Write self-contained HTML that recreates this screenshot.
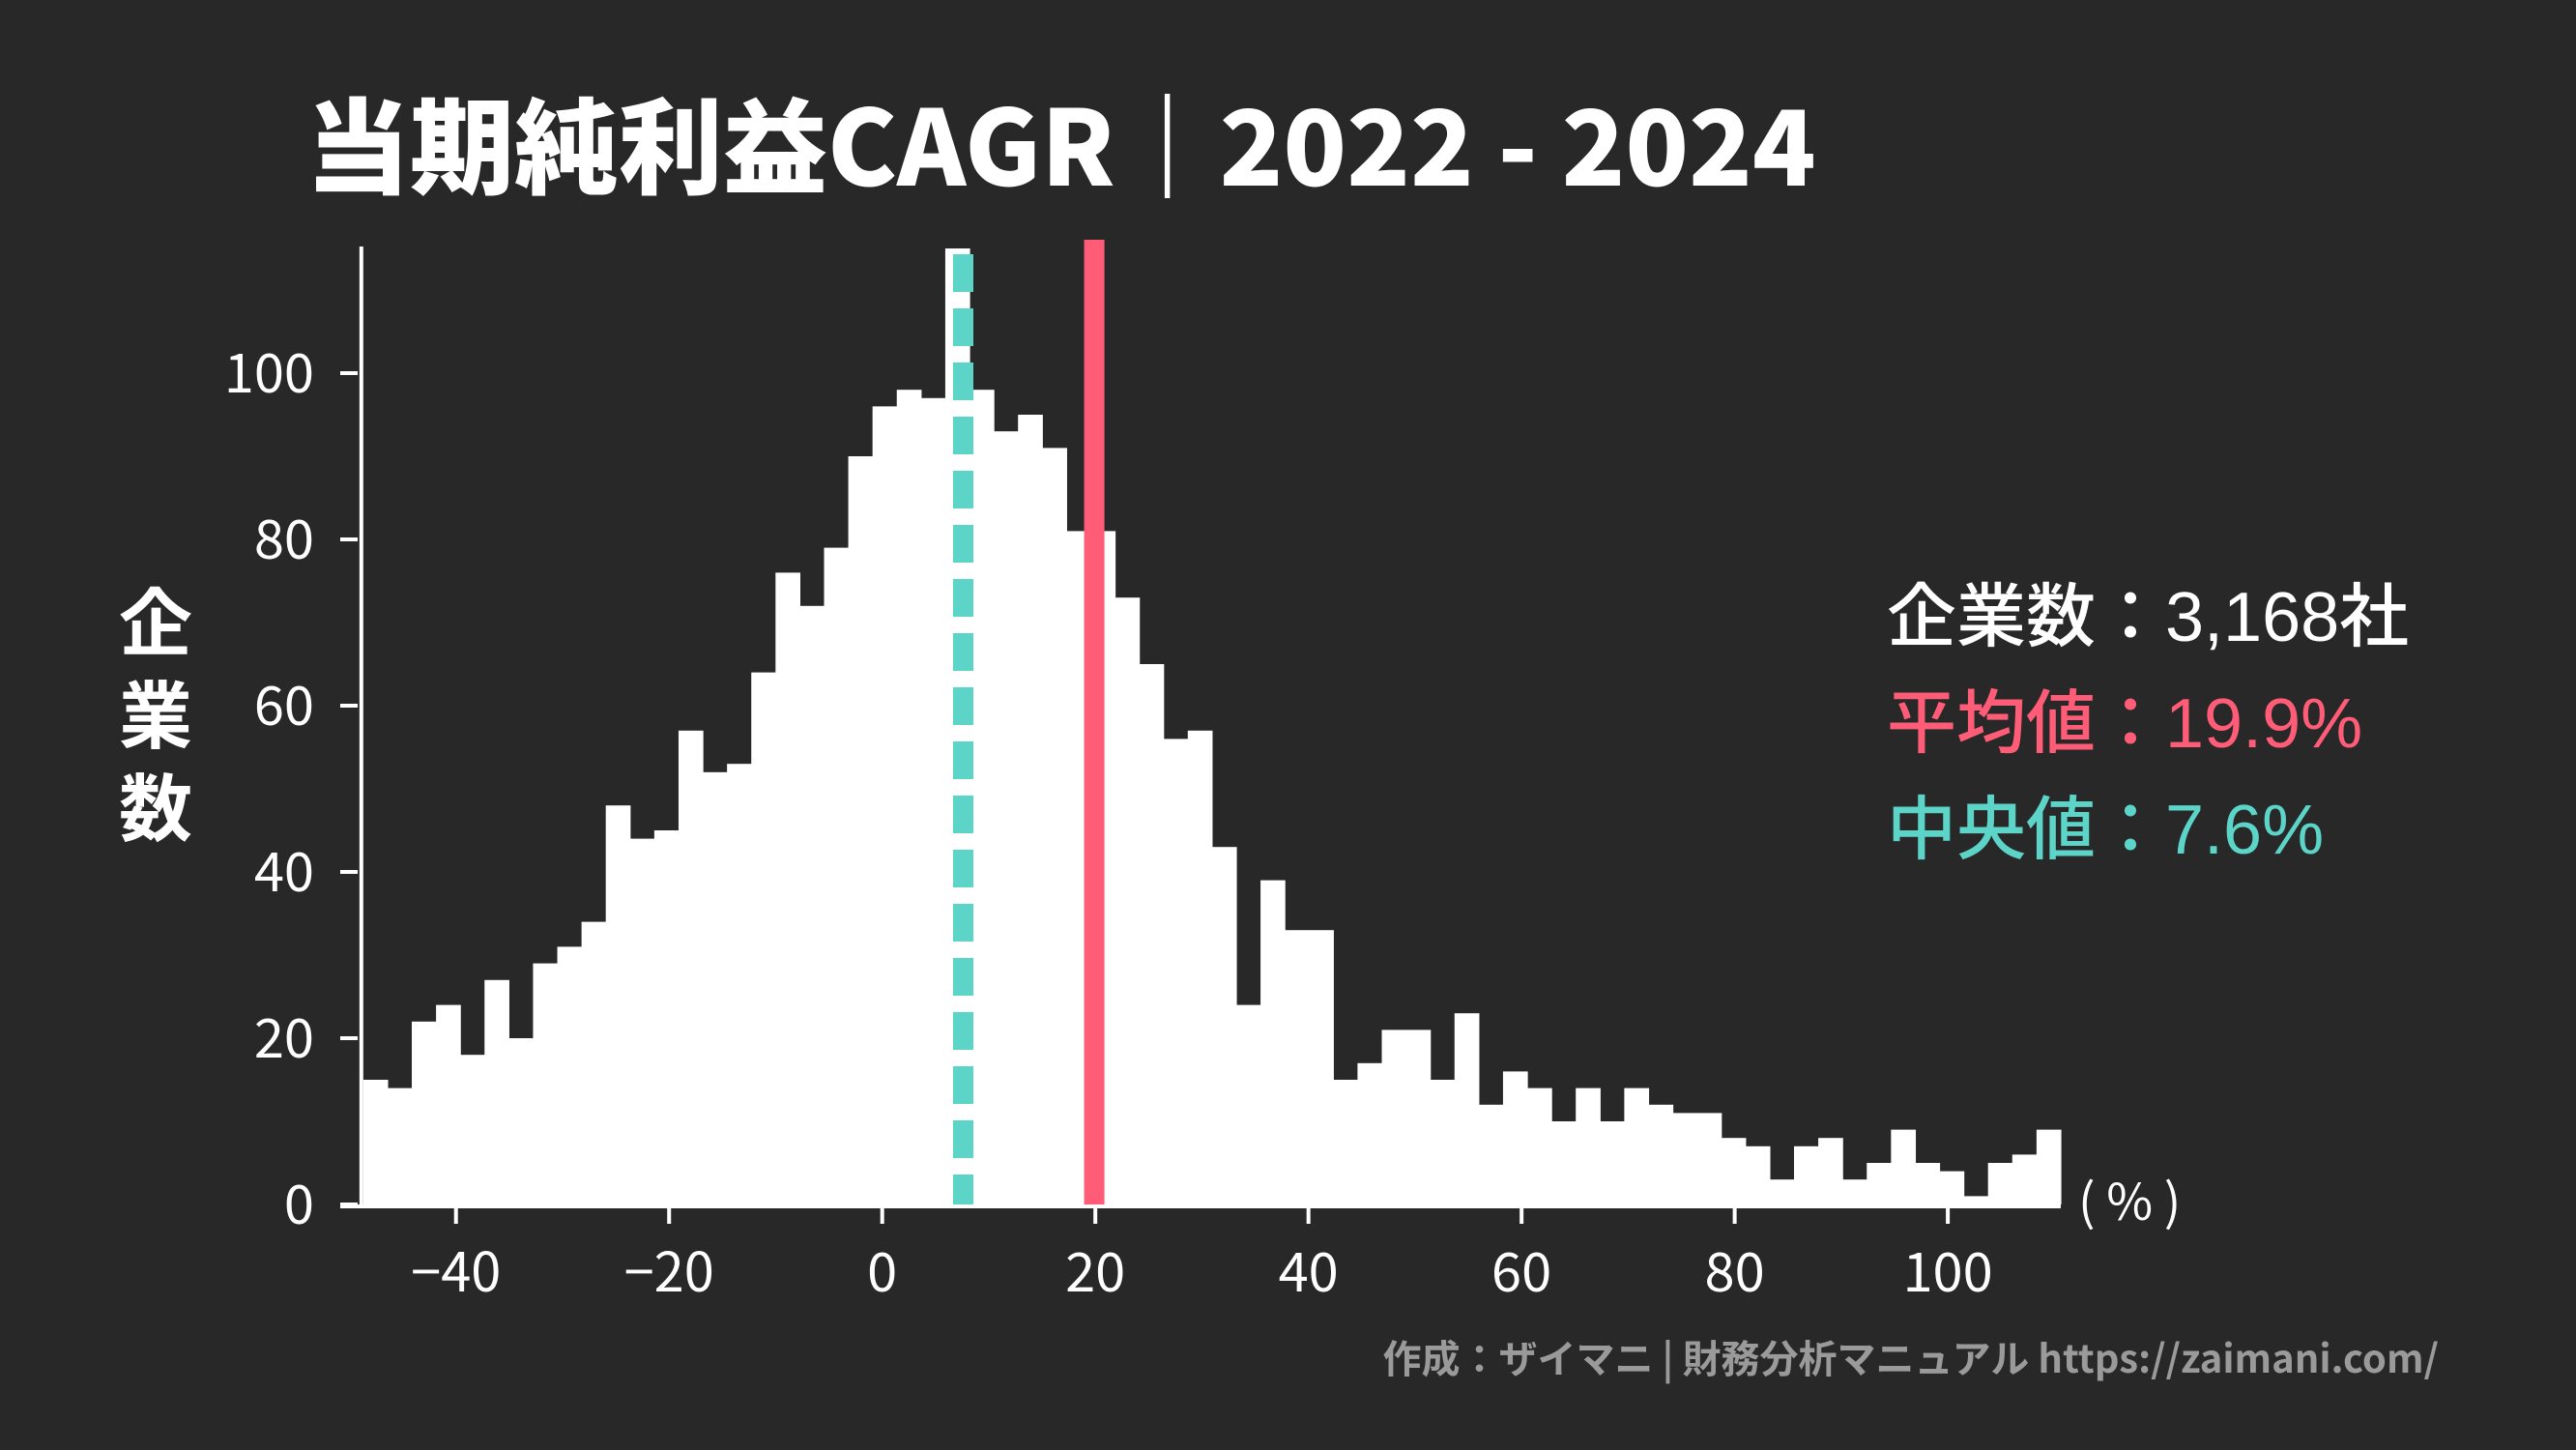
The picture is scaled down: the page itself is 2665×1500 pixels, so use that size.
<!DOCTYPE html>
<html><head><meta charset="utf-8">
<style>
html,body{margin:0;padding:0;background:#282828;}
svg{display:block;}
text{font-family:"Liberation Sans","Noto Sans CJK JP",sans-serif;}
</style></head>
<body>
<svg id="chart" width="2665" height="1500" viewBox="0 0 2665 1500" xmlns="http://www.w3.org/2000/svg">
<rect x="0" y="0" width="2665" height="1500" fill="#282828"/>
<text x="316" y="192" font-size="108" font-weight="bold" fill="#ffffff" style="font-family:'Noto Sans CJK JP','Liberation Sans',sans-serif;font-weight:900">当期純利益CAGR｜2022 - 2024</text>
<g id="bars"></g>
<g id="axes"></g>
<g id="refs"></g>
<g font-size="76" font-weight="bold" fill="#ffffff" text-anchor="middle" style="font-family:'Noto Sans CJK JP',sans-serif;font-weight:700">
<text x="161" y="672">企</text><text x="161" y="768">業</text><text x="161" y="864">数</text>
</g>
<text x="2150" y="1262" font-size="52" fill="#ffffff" style="font-family:'Noto Sans CJK JP',sans-serif">( % )</text>
<g font-size="72" style="font-family:'Noto Sans CJK JP',sans-serif;font-weight:500">
<text x="1952" y="663" fill="#ffffff">企業数：3,168社</text>
<text x="1952" y="773" fill="#ff5c77">平均値：19.9%</text>
<text x="1952" y="883" fill="#5dd4c8">中央値：7.6%</text>
</g>
<text x="2523" y="1420" text-anchor="end" font-size="40" font-weight="bold" fill="#9a9a9a" style="font-family:'Noto Sans CJK JP','Liberation Sans',sans-serif;font-weight:700">作成：ザイマニ | 財務分析マニュアル https://zaimani.com/</text>
</svg>
<script>
const counts = [15,14,22,24,18,27,20,29,31,34,48,44,45,57,52,53,64,76,72,79,90,96,98,97,115,98,93,95,91,81,81,73,65,56,57,43,24,39,33,33,15,17,21,21,15,23,12,16,14,10,14,10,14,12,11,11,8,7,3,7,8,3,5,9,5,4,1,5,6,9];
const binStart = -48.7;
const binEnd = 110.6;
const xTicks = [-40,-20,0,20,40,60,80,100];
const xTickLabels = ["−40","−20","0","20","40","60","80","100"];
const yTicks = [0,20,40,60,80,100];
const meanValue = [19.9];
const medianValue = [7.6];

const NS = "http://www.w3.org/2000/svg";
const x0px = 912.7, xPer = 11.024, y0px = 1246, yPer = 8.6;
const xs = v => x0px + v * xPer;
const ys = v => y0px - v * yPer;
const topY = 255;
function mk(tag, attrs, parent){const e=document.createElementNS(NS,tag);for(const k in attrs)e.setAttribute(k,attrs[k]);parent.appendChild(e);return e;}

const bars = document.getElementById('bars');
const bw = (binEnd - binStart) / counts.length;
counts.forEach((c,i)=>{
  const xa = xs(binStart + i*bw), xb = xs(binStart + (i+1)*bw);
  const yt = Math.max(ys(c), topY);
  const r = mk('rect',{x:xa,y:yt,width:xb-xa+0.6,height:y0px-yt,fill:'#ffffff'},bars);
  
  
});

const axes = document.getElementById('axes');
const ySp = mk('line',{x1:xs(binStart)-2,y1:topY,x2:xs(binStart)-2,y2:y0px+2,stroke:'#ffffff','stroke-width':4},axes);


const xSp = mk('line',{x1:352,y1:y0px+2,x2:xs(binEnd),y2:y0px+2,stroke:'#ffffff','stroke-width':4},axes);


xTicks.forEach((t,i)=>{
  const l = mk('line',{x1:xs(t),y1:y0px,x2:xs(t),y2:y0px+20,stroke:'#ffffff','stroke-width':4},axes);
  
  
  const tx = mk('text',{x:xs(t),y:y0px+90,'font-size':56,fill:'#ffffff','text-anchor':'middle',style:"font-family:'Noto Sans CJK JP',sans-serif"},axes);
  tx.textContent = xTickLabels[i];
  
  
});
yTicks.forEach(t=>{
  const l = mk('line',{x1:352,y1:ys(t),x2:370,y2:ys(t),stroke:'#ffffff','stroke-width':4},axes);
  
  
  const tx = mk('text',{x:325,y:ys(t)+20,'font-size':56,fill:'#ffffff','text-anchor':'end',style:"font-family:'Noto Sans CJK JP',sans-serif"},axes);
  tx.textContent = String(t);
  
  
});

const refs = document.getElementById('refs');
const med = mk('line',{x1:xs(medianValue[0]),y1:263,x2:xs(medianValue[0]),y2:y0px,stroke:'#5dd4c8','stroke-width':21,'stroke-dasharray':'39 17'},refs);


const mean = mk('line',{x1:xs(meanValue[0]),y1:248,x2:xs(meanValue[0]),y2:y0px,stroke:'#ff5c77','stroke-width':21},refs);


</script>
</body></html>
